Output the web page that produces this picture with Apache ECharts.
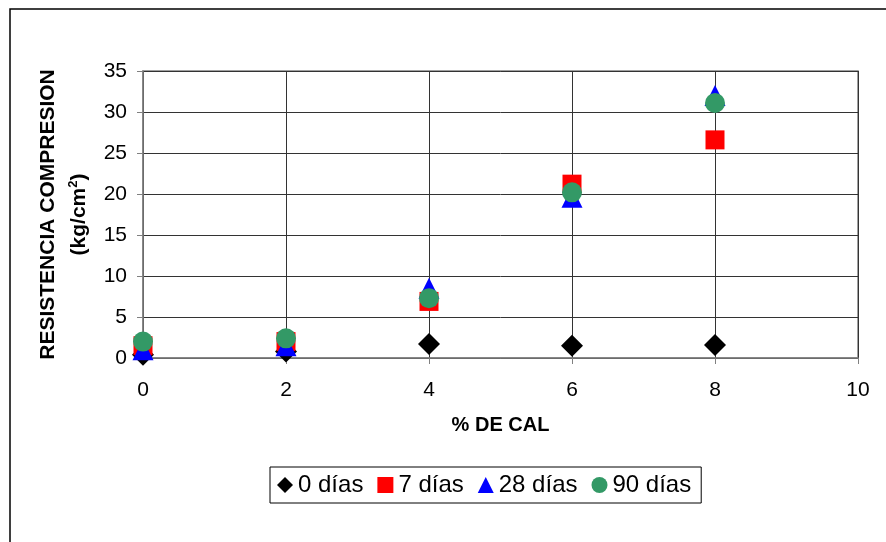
<!DOCTYPE html>
<html><head><meta charset="utf-8">
<script src="https://cdn.jsdelivr.net/npm/echarts@6/dist/echarts.min.js"></script>
<style>html,body{margin:0;padding:0;background:#fff}#c{width:886px;height:542px}</style>
</head><body><div id="c"></div>
<script>
var xValues = [0, 2, 4, 6, 8];
var seriesNames = ['0 días', '7 días', '28 días', '90 días'];
var dias0 = [0.4, 0.8, 1.7, 1.5, 1.6];
var dias7 = [1.5, 2.0, 6.9, 21.2, 26.6];
var dias28 = [1.0, 1.5, 8.5, 19.6, 32.0];
var dias90 = [2.0, 2.4, 7.3, 20.2, 31.1];

function pts(v){ return xValues.map(function(x,i){return [x, v[i]];}); }
var chart = echarts.init(document.getElementById('c'), null, {renderer:'canvas'});
var font = 'Arial, "Liberation Sans", sans-serif';
chart.setOption({
  animation:false,
  backgroundColor:'#fff',
  graphic:[{type:'rect', shape:{x:10,y:9,width:900,height:560}, style:{fill:'none', stroke:'#000', lineWidth:1.5}, z:-10}],
  grid:{left:143, right:28, top:71, bottom:184, show:true, borderColor:'#808080', borderWidth:1.5},
  xAxis:{type:'value', min:0, max:10, interval:2,
    name:'% DE CAL', nameLocation:'middle', nameGap:57,
    nameTextStyle:{fontFamily:font, fontWeight:'bold', fontSize:20, color:'#000'},
    axisLine:{show:true, lineStyle:{color:'#808080', width:1.5}},
    axisTick:{show:true, length:6, lineStyle:{color:'#808080'}},
    axisLabel:{fontFamily:font, fontSize:21, color:'#000', margin:22},
    splitLine:{show:true, lineStyle:{color:'#333', width:1}}},
  yAxis:{type:'value', min:0, max:35, interval:5,
    name:'{a|RESISTENCIA COMPRESION}\n{a|(kg/cm}{s|2}{a|)}', nameLocation:'middle', nameGap:48,
    nameTextStyle:{fontFamily:font, fontWeight:'bold', fontSize:21, color:'#000',
      rich:{
        a:{fontFamily:font, fontWeight:'bold', fontSize:21, lineHeight:31, color:'#000'},
        s:{fontFamily:font, fontWeight:'bold', fontSize:13, lineHeight:31, color:'#000', verticalAlign:'top', padding:[3,0,0,0]}
      }},
    axisLine:{show:true, lineStyle:{color:'#808080', width:1.5}},
    axisTick:{show:true, length:6, lineStyle:{color:'#808080'}},
    axisLabel:{fontFamily:font, fontSize:21, color:'#000', margin:16},
    splitLine:{show:true, lineStyle:{color:'#333', width:1}}},
  legend:{left:270, top:467, orient:'horizontal', borderColor:'#000', borderWidth:1,
    padding:[6,10,6,7], itemGap:14, itemWidth:16, itemHeight:16,
    textStyle:{fontFamily:font, fontSize:24, color:'#000'},
    data:seriesNames},
  series:[
    {name:seriesNames[0], type:'scatter', data:pts(dias0), symbol:'diamond', symbolSize:22, itemStyle:{color:'#000', opacity:1}, z:2},
    {name:seriesNames[1], type:'scatter', data:pts(dias7), symbol:'rect', symbolSize:19, itemStyle:{color:'#ff0000', opacity:1}, z:3},
    {name:seriesNames[2], type:'scatter', data:pts(dias28), symbol:'triangle', symbolSize:21, itemStyle:{color:'#0000ff', opacity:1}, z:4},
    {name:seriesNames[3], type:'scatter', data:pts(dias90), symbol:'circle', symbolSize:20, itemStyle:{color:'#339966', opacity:1}, z:5}
  ]
});
</script></body></html>
